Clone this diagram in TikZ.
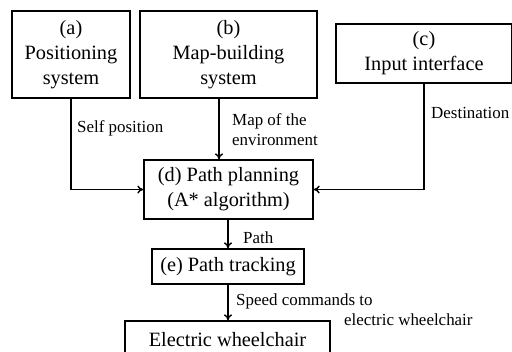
\documentclass[tikz,border=0pt]{standalone}
\usepackage{fontspec}
\setmainfont{Liberation Serif}
\usetikzlibrary{arrows.meta}
\begin{document}
\begin{tikzpicture}[x=1bp,y=-1bp,
  box/.style={draw,line width=1.4bp,inner sep=0pt,align=center,
    font=\fontsize{20.4}{25}\selectfont},
  lbl/.style={anchor=base west,inner sep=0pt,align=left,
    font=\fontsize{17}{20}\selectfont},
  conn/.style={line width=1.4bp,-{To[length=6bp,width=8bp]}}]
\useasboundingbox (0,0) rectangle (512,351);
\clip (0,0) rectangle (512,351);
\node[box,minimum width=118bp,minimum height=87bp] (a) at (71,54.5) {(a)\\Positioning\\system};
\node[box,minimum width=177bp,minimum height=87bp] (b) at (228.5,54.5) {(b)\\Map-building\\system};
\node[box,minimum width=176bp,minimum height=59bp] (c) at (424,53.5) {(c)\\Input interface};
\node[box,minimum width=169bp,minimum height=59bp] (d) at (228.5,189.5) {(d) Path planning\\(A* algorithm)};
\node[box,minimum width=152bp,minimum height=35bp] (e) at (228,266.5) {(e) Path tracking};
\node[box,minimum width=205bp,minimum height=37bp] (f) at (227.5,339.5) {Electric wheelchair};
\draw[conn] (a.south) |- (d.west);
\draw[conn] (c.south) |- (d.east);
\draw[conn] ([xshift=-9.5bp]b.south) -- ([xshift=-9.5bp]d.north);
\draw[conn] (e.north |- d.south) -- (e.north);
\draw[conn] (e.south) -- (e.south |- f.north);
\node[lbl] (l1) at (77,132) {Self position};
\node[lbl] (l2) at (232,145) {Map of the\\environment};
\node[lbl] (l3) at (431,118) {Destination};
\node[lbl] (l4) at (243,243) {Path};
\node[lbl] (l5) at (236,305) {Speed commands to};
\node[lbl] (l6) at (344,325) {electric wheelchair};
\end{tikzpicture}
\end{document}
